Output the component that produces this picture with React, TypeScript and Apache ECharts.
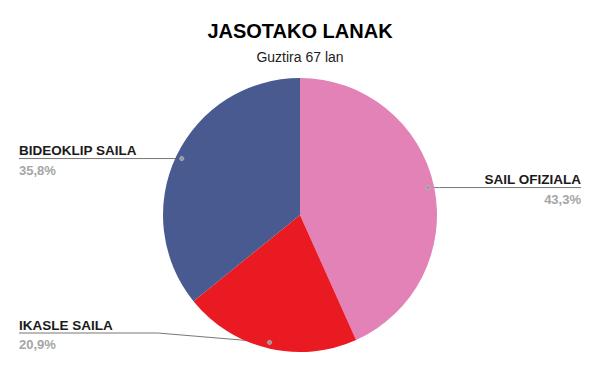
import React, { useEffect, useRef } from "react";
import * as echarts from "echarts";

const categories = ["SAIL OFIZIALA", "IKASLE SAILA", "BIDEOKLIP SAILA"];
const values = [29, 14, 24];
const colors = ["#E282B6", "#E91A22", "#485A8F"];
const titleText = "JASOTAKO LANAK";
const subtitleText = "Guztira 67 lan";

const W = 600;
const H = 371;
const CX = 300;
const CY = 215;
const R = 137;
const DOT_R = 131;
const EDGE = 19;
const MAX_LINE_Y = 333;

export default function App() {
  const ref = useRef<HTMLDivElement>(null);
  useEffect(() => {
    if (!ref.current) return;
    const chart = echarts.init(ref.current, undefined, { renderer: "svg" });
    const total = values.reduce((a, b) => a + b, 0);
    const pct = (v: number) => ((v / total) * 100).toFixed(1).replace(".", ",") + "%";
    let cum = 0;
    const dots = values.map((v) => {
      const start = 90 - (360 * cum) / total;
      const mid = ((start - (180 * v) / total) * Math.PI) / 180;
      cum += v;
      return [CX + DOT_R * Math.cos(mid), CY - DOT_R * Math.sin(mid)];
    });

    chart.setOption({
      animation: false,
      title: {
        text: titleText,
        subtext: subtitleText,
        left: "center",
        top: 16,
        itemGap: 9,
        textStyle: { fontFamily: "Liberation Sans, Arial", fontSize: 20, fontWeight: "bold", color: "#000" },
        subtextStyle: { fontFamily: "Liberation Sans, Arial", fontSize: 14, color: "#222" },
      },
      series: [
        {
          type: "pie",
          center: [CX, CY],
          radius: R,
          startAngle: 90,
          clockwise: true,
          avoidLabelOverlap: false,
          data: categories.map((c, i) => ({ name: c, value: values[i], itemStyle: { color: colors[i] } })),
          label: {
            show: true,
            position: "outside",
            formatter: (p: any) => `{n|${p.name}}\n{p|${pct(p.value)}}`,
            rich: {
              n: { fontFamily: "Liberation Sans, Arial", fontSize: 13.5, fontWeight: "bold", color: "#1a1a1a", lineHeight: 24 },
              p: { fontFamily: "Liberation Sans, Arial", fontSize: 13, fontWeight: "bold", color: "#a5a5a5", lineHeight: 15 },
            },
          },
          labelLine: { show: true, length: 5, length2: 5, lineStyle: { color: "#777", width: 1 } },
          labelLayout: (params: any) => {
            const i = params.dataIndex;
            const [dx, dy] = dots[i];
            const isLeft = dx < CX;
            const lineY = Math.min(dy, MAX_LINE_Y);
            const w = params.labelRect.width;
            const x = isLeft ? EDGE : W - EDGE;
            const bendX = isLeft ? Math.min(dx, EDGE + w + 45) : Math.max(dx, W - EDGE - w - 45);
            return {
              x,
              y: lineY - 0.5,
              align: isLeft ? "left" : "right",
              verticalAlign: "middle",
              labelLinePoints: [[dx, dy], [bendX, lineY], [x, lineY]],
            };
          },
        },
      ],
      graphic: dots.map(([x, y]) => ({
        type: "circle",
        shape: { cx: x, cy: y, r: 2.2 },
        style: { fill: "#999", stroke: "#ccc", lineWidth: 0.5 },
        z: 100,
      })),
    });
    return () => chart.dispose();
  }, []);
  return <div ref={ref} style={{ position: "absolute", left: 0, top: 0, width: W, height: H }} />;
}
